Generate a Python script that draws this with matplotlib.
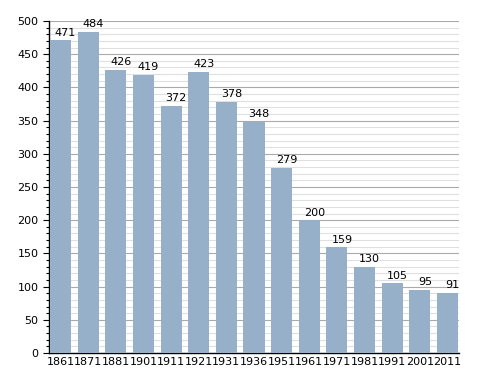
import matplotlib
matplotlib.use("Agg")
import matplotlib.pyplot as plt
from matplotlib.ticker import MultipleLocator

years = ["1861", "1871", "1881", "1901", "1911", "1921", "1931", "1936",
         "1951", "1961", "1971", "1981", "1991", "2001", "2011"]
population = [471, 484, 426, 419, 372, 423, 378, 348, 279, 200, 159, 130, 105, 95, 91]

fig = plt.figure(figsize=(4.88, 3.73), dpi=100)
ax = fig.add_axes([49/488, 20/373, 410/488, 332/373])

x = list(range(len(years)))
ax.bar(x, population, width=0.76, color="#97b0c9", zorder=3)
for xi, v in zip(x, population):
    ax.text(xi + 0.18, v + 4, str(v), ha="center", va="bottom", fontsize=8, zorder=4)

ax.set_xlim(-0.416, len(years) - 1 + 0.416)
ax.set_ylim(0, 500)
ax.set_xticks(x)
ax.set_xticklabels(years, fontsize=8)
ax.yaxis.set_major_locator(MultipleLocator(50))
ax.yaxis.set_minor_locator(MultipleLocator(10))
ax.tick_params(axis="y", labelsize=8, length=4, width=0.8)
ax.tick_params(axis="y", which="minor", length=2, width=0.8)
ax.tick_params(axis="x", length=0, pad=3)
ax.grid(axis="y", which="major", color="#aaaaaa", linewidth=0.8, zorder=1)
ax.grid(axis="y", which="minor", color="#e0e0e0", linewidth=0.8, zorder=0)
for s in ["top", "right"]:
    ax.spines[s].set_visible(False)
ax.spines["left"].set_linewidth(1)
ax.spines["bottom"].set_linewidth(1)

fig.savefig("out.png", dpi=100)
